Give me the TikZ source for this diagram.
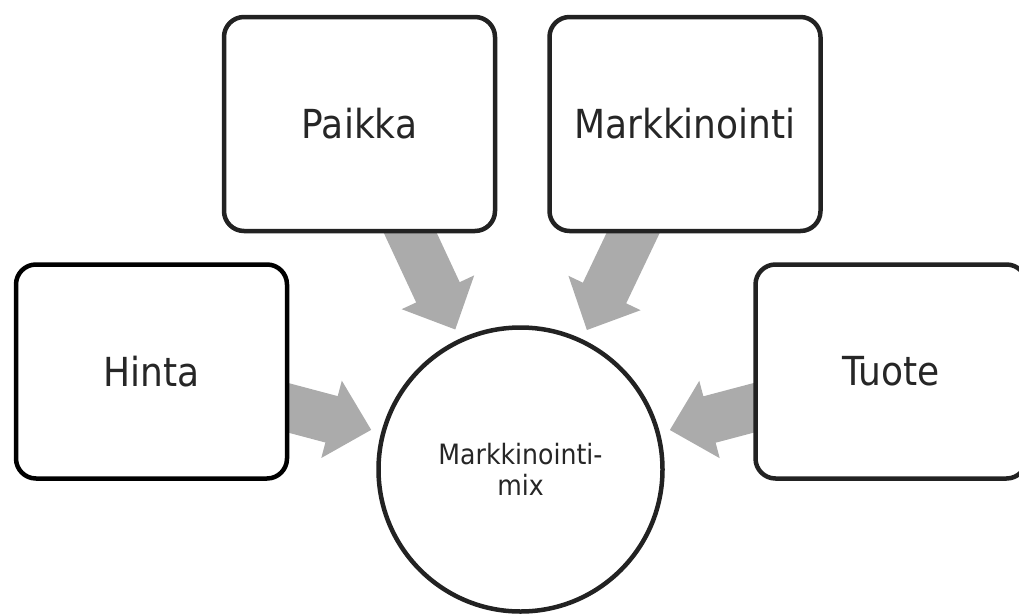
\documentclass[tikz,border=0pt]{standalone}
\usepackage{fontspec}
\setmainfont{DejaVu Sans}[FakeStretch=0.9]
\usetikzlibrary{calc,backgrounds}
\definecolor{edge}{HTML}{222222}
\definecolor{arrowgray}{HTML}{ABABAB}
\definecolor{txt}{HTML}{262626}
\tikzset{
  box/.style={draw=edge, line width=4.5pt, fill=white, rounded corners=20pt,
    minimum width=271pt, minimum height=214pt, inner sep=0pt, text=txt,
    font=\fontsize{40}{44}\selectfont},
  hub/.style={circle, draw=edge, line width=4.5pt, fill=white, minimum size=284pt,
    inner sep=0pt, text=txt, font=\fontsize{28}{31}\selectfont, align=center},
  radarrowfill/.style={fill=arrowgray, draw=none}
}
\newcommand{\radarrow}[2]{%
  \coordinate (S) at (#1.center);
  \coordinate (T) at ($(#2.center)!154.5pt!(#1.center)$);
  \coordinate (H) at ($(T)!41pt!(#1.center)$);
  \path[radarrowfill] ($(S)!24pt!90:(T)$) -- ($(H)!24pt!90:(T)$) -- ($(H)!40pt!90:(T)$)
    -- (T) -- ($(H)!40pt!-90:(T)$) -- ($(H)!24pt!-90:(T)$) -- ($(S)!24pt!-90:(T)$) -- cycle;
}
\begin{document}
\begin{tikzpicture}[x=1pt, y=-1pt]
  \useasboundingbox (0,0) rectangle (1019,613);
  \node[hub] (mix) at (520.5,469.5) {Markkinointi-\\mix};
  \node[box, draw=black] (hinta) at (151.5,371.5) {Hinta};
  \node[box] (paikka) at (359.5,124) {Paikka};
  \node[box] (mark) at (685,124) {Markkinointi};
  \node[box] (tuote) at (891,371.5) {Tuote};
  \begin{scope}[on background layer]
    \radarrow{hinta}{mix}
    \radarrow{paikka}{mix}
    \radarrow{mark}{mix}
    \radarrow{tuote}{mix}
  \end{scope}
\end{tikzpicture}
\end{document}
